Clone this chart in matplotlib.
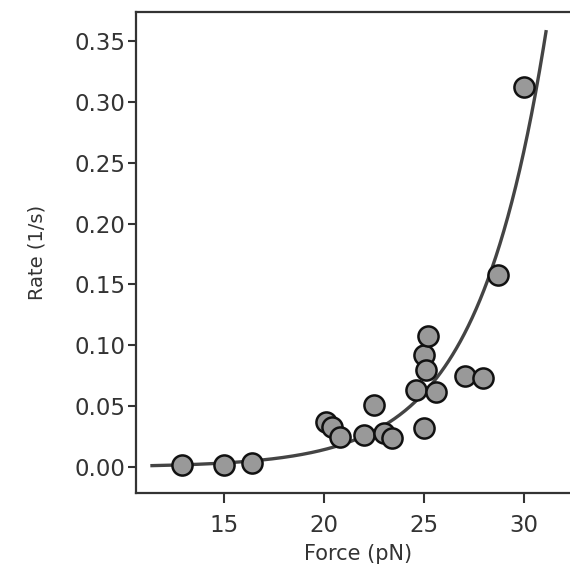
"""Rate vs force with exponential fit."""
import numpy as np
import matplotlib
matplotlib.use("Agg")
import matplotlib.pyplot as plt

# data
force = [12.9, 15.0, 16.4, 20.1, 20.4, 20.8, 22.0, 22.5, 23.0, 23.4,
         25.0, 24.6, 25.6, 25.0, 25.1, 25.2, 27.05, 27.95, 28.7, 30.0]
rate = [0.002, 0.002, 0.003, 0.037, 0.033, 0.025, 0.026, 0.051, 0.028, 0.024,
        0.032, 0.063, 0.062, 0.092, 0.080, 0.108, 0.075, 0.073, 0.158, 0.312]

# exponential fit  rate = A * exp(k * F)
fit_A = 4.33e-5
fit_k = 0.29
fit_range = (11.4, 31.1)

xticks = [15, 20, 25, 30]
yticks = [0.00, 0.05, 0.10, 0.15, 0.20, 0.25, 0.30, 0.35]

txt = "#333333"
fig = plt.figure(figsize=(5.7, 5.79), dpi=100)
ax = fig.add_axes([136 / 570, 1 - 493 / 579, 444 / 570, 481 / 579])

ff = np.linspace(fit_range[0], fit_range[1], 300)
ax.plot(ff, fit_A * np.exp(fit_k * ff), color="#444444", linewidth=2.4, zorder=2)
ax.plot(force, rate, "o", markersize=14.5, markerfacecolor="#999999",
        markeredgecolor="#111111", markeredgewidth=1.8, zorder=3)

ax.set_xlim(10.6, 32.8)
ax.set_ylim(-0.0213, 0.3738)
ax.set_xticks(xticks)
ax.set_yticks(yticks)
ax.set_yticklabels([f"{v:.2f}" for v in yticks])
ax.tick_params(direction="out", colors="#333333", labelsize=16.5,
               labelcolor=txt, width=1.5)
ax.tick_params(axis="y", length=5.8, pad=2)
ax.tick_params(axis="x", length=7, pad=8)
for s in ax.spines.values():
    s.set_color("#333333")
    s.set_linewidth(1.6)

ax.set_xlabel("Force (pN)", fontsize=15, color=txt, labelpad=5)
ax.set_ylabel("Rate (1/s)", fontsize=14, color=txt, labelpad=20)

fig.savefig("out.png", dpi=100)
plt.close("all")
